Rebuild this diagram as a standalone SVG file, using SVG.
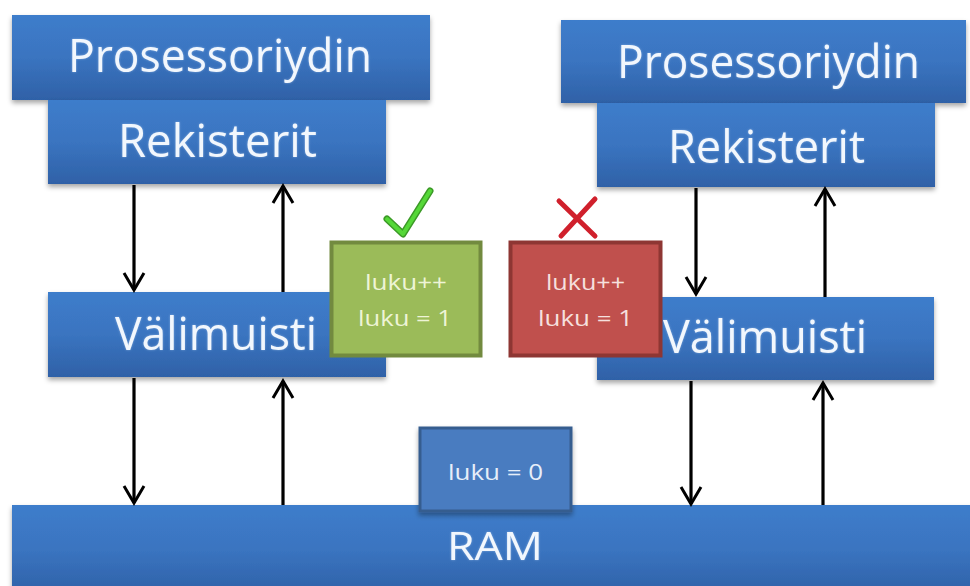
<svg xmlns="http://www.w3.org/2000/svg" width="970" height="586" viewBox="0 0 970 586">
  <defs>
    <linearGradient id="blueFill" x1="0" y1="0" x2="0" y2="1">
      <stop offset="0" stop-color="#3e7dcb"/>
      <stop offset="0.5" stop-color="#3a74c0"/>
      <stop offset="1" stop-color="#2f61a7"/>
    </linearGradient>
    <filter id="shadow" x="-5%" y="-10%" width="110%" height="130%">
      <feDropShadow dx="0" dy="3" stdDeviation="2.5" flood-color="#000" flood-opacity="0.35"/>
    </filter>
    <filter id="glow" x="-5%" y="-20%" width="110%" height="140%">
      <feGaussianBlur in="SourceAlpha" stdDeviation="1.2" result="b"/>
      <feFlood flood-color="#bcd6f5" flood-opacity="0.5"/>
      <feComposite in2="b" operator="in" result="g"/>
      <feMerge><feMergeNode in="g"/><feMergeNode in="SourceGraphic"/></feMerge>
    </filter>
    <!-- open chevron head, tip at the line end -->
    <marker id="arrow" viewBox="0 0 22 24" refX="19" refY="12" markerWidth="22" markerHeight="24" markerUnits="userSpaceOnUse" orient="auto">
      <path d="M2,2 L19,12 L2,22" fill="none" stroke="#000" stroke-width="3" stroke-linejoin="miter"/>
    </marker>
  </defs>
  <style>
    .blk { fill: url(#blueFill); filter: url(#shadow); }
    .big { font-family: "Open Sans", "Liberation Sans", sans-serif; fill: #f2f7fd; filter: url(#glow); }
    .small { font-family: "Open Sans", "Liberation Sans", sans-serif; font-size: 22px; }
    .conn line { stroke: #000; stroke-width: 3.2; }
  </style>

  <rect width="970" height="586" fill="#ffffff"/>

  <!-- left core -->
  <g id="cpu-left">
    <rect class="blk" x="12" y="15" width="418" height="85"/>
    <text class="big" x="68" y="72" font-size="46" textLength="304" lengthAdjust="spacingAndGlyphs">Prosessoriydin</text>
  </g>
  <g id="reg-left">
    <rect class="blk" x="48" y="100" width="338" height="84"/>
    <text class="big" x="118" y="157" font-size="46" textLength="199" lengthAdjust="spacingAndGlyphs">Rekisterit</text>
  </g>
  <g id="cache-left">
    <rect class="blk" x="48" y="292" width="338" height="85"/>
    <text class="big" x="115" y="350" font-size="46" textLength="202" lengthAdjust="spacingAndGlyphs">Välimuisti</text>
  </g>

  <!-- right core -->
  <g id="cpu-right">
    <rect class="blk" x="561" y="20" width="405" height="83"/>
    <text class="big" x="617" y="78" font-size="46" textLength="303" lengthAdjust="spacingAndGlyphs">Prosessoriydin</text>
  </g>
  <g id="reg-right">
    <rect class="blk" x="597" y="103" width="338" height="84"/>
    <text class="big" x="668" y="163" font-size="46" textLength="197" lengthAdjust="spacingAndGlyphs">Rekisterit</text>
  </g>
  <g id="cache-right">
    <rect class="blk" x="597" y="297" width="337" height="83"/>
    <text class="big" x="663" y="353" font-size="46" textLength="204" lengthAdjust="spacingAndGlyphs">Välimuisti</text>
  </g>

  <!-- main memory -->
  <g id="ram">
    <rect class="blk" x="12" y="505" width="970" height="90"/>
    <text class="big" x="447" y="560" font-size="38" textLength="96" lengthAdjust="spacingAndGlyphs">RAM</text>
  </g>
  <g id="ram-value">
    <rect x="420" y="428" width="151" height="83" fill="#4a7cc0" stroke="#365d8f" stroke-width="3" filter="url(#shadow)"/>
    <text class="small" x="448" y="480" fill="#e6eef9" textLength="95" lengthAdjust="spacingAndGlyphs">luku = 0</text>
  </g>

  <!-- connectors -->
  <g id="connectors" class="conn">
    <line x1="134" y1="185" x2="134" y2="290" marker-end="url(#arrow)"/>
    <line x1="283" y1="292" x2="283" y2="186" marker-end="url(#arrow)"/>
    <line x1="134" y1="378" x2="134" y2="503" marker-end="url(#arrow)"/>
    <line x1="283" y1="505" x2="283" y2="381" marker-end="url(#arrow)"/>
    <line x1="696" y1="188" x2="696" y2="294" marker-end="url(#arrow)"/>
    <line x1="825" y1="297" x2="825" y2="189" marker-end="url(#arrow)"/>
    <line x1="691" y1="381" x2="691" y2="504" marker-end="url(#arrow)"/>
    <line x1="823" y1="505" x2="823" y2="383" marker-end="url(#arrow)"/>
  </g>

  <!-- increment in left cache: accepted -->
  <g id="inc-left">
    <rect x="331.5" y="242.5" width="149" height="113" fill="#9bbb59" stroke="#728a3f" stroke-width="4"/>
    <text class="small" x="365" y="290" fill="#eef4d6" textLength="82" lengthAdjust="spacingAndGlyphs">luku++</text>
    <text class="small" x="358" y="326" fill="#eef4d6" textLength="94" lengthAdjust="spacingAndGlyphs">luku = 1</text>
  </g>
  <g id="check">
    <path d="M387,219 L403,234 L430,191" fill="none" stroke="#3c9a27" stroke-width="7" stroke-linecap="round" stroke-linejoin="round"/>
    <path d="M387,219 L403,234 L430,191" fill="none" stroke="#55d838" stroke-width="4" stroke-linecap="round" stroke-linejoin="round"/>
  </g>

  <!-- increment in right cache: rejected -->
  <g id="inc-right">
    <rect x="510.5" y="242.5" width="150" height="113" fill="#c0504d" stroke="#8e3633" stroke-width="4"/>
    <text class="small" x="546" y="290" fill="#f6e0df" textLength="79" lengthAdjust="spacingAndGlyphs">luku++</text>
    <text class="small" x="538" y="326" fill="#f6e0df" textLength="95" lengthAdjust="spacingAndGlyphs">luku = 1</text>
  </g>
  <g id="cross" stroke="#d0202c" stroke-width="5" stroke-linecap="round">
    <line x1="559" y1="201" x2="595" y2="236"/>
    <line x1="595" y1="199" x2="561" y2="236"/>
  </g>
</svg>
